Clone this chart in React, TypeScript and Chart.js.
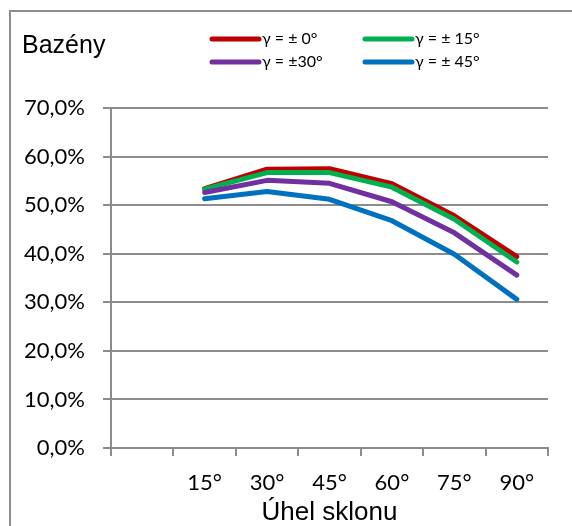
import React, { useEffect, useRef } from "react";
import { Chart, registerables } from "chart.js";

Chart.register(...registerables);

// Tilt angles (first slot left empty on purpose)
const categories = ["", "15°", "30°", "45°", "60°", "75°", "90°"];

// Efficiency in % for each azimuth deviation
const gamma0 = [null, 53.4, 57.4, 57.5, 54.4, 47.8, 39.4];
const gamma15 = [null, 53.3, 56.7, 56.7, 53.7, 47.1, 38.3];
const gamma30 = [null, 52.6, 55.1, 54.5, 50.7, 44.3, 35.6];
const gamma45 = [null, 51.3, 52.8, 51.2, 46.8, 39.9, 30.6];

const seriesLabels = ["γ = ± 0°", "γ = ± 15°", "γ = ±30°", "γ = ± 45°"];
const seriesColors = ["#C00000", "#00B050", "#7030A0", "#0070C0"];

const yTicks = { min: 0, max: 70, step: 10 };

const chartTitle = "Bazény";
const xAxisTitle = "Úhel sklonu";

const GRID = "#8c8c8c";
const NUM_FONT = "Lato, 'Noto Sans', sans-serif";
const TEXT_FONT = "'Liberation Sans', Arial, sans-serif";

// Frame, heading and two-row legend drawn straight onto the canvas
const decorations = {
  id: "decorations",
  beforeDraw(chart: any) {
    const { ctx, width, height } = chart;
    ctx.save();
    ctx.strokeStyle = GRID;
    ctx.lineWidth = 2;
    ctx.beginPath();
    ctx.moveTo(10, height);
    ctx.lineTo(10, 11);
    ctx.lineTo(width, 11);
    ctx.stroke();
    ctx.restore();
  },
  afterDraw(chart: any) {
    const { ctx } = chart;
    ctx.save();
    ctx.fillStyle = "#000";
    ctx.font = `25px ${TEXT_FONT}`;
    ctx.textAlign = "left";
    ctx.textBaseline = "alphabetic";
    ctx.fillText(chartTitle, 22, 53);

    const cols = [212, 365];
    const rows = [39, 62];
    ctx.font = `16px ${NUM_FONT}`;
    ctx.textBaseline = "middle";
    chart.data.datasets.forEach((ds: any, i: number) => {
      const x = cols[i % 2];
      const y = rows[Math.floor(i / 2)];
      ctx.strokeStyle = ds.borderColor;
      ctx.lineWidth = 5;
      ctx.lineCap = "round";
      ctx.beginPath();
      ctx.moveTo(x, y);
      ctx.lineTo(x + 47, y);
      ctx.stroke();
      ctx.fillStyle = "#000";
      ctx.fillText(ds.label, x + 50, y);
    });
    ctx.restore();
  },
};

export default function App() {
  const canvasRef = useRef<HTMLCanvasElement | null>(null);

  useEffect(() => {
    const canvas = canvasRef.current;
    if (!canvas) return;
    const series = [gamma0, gamma15, gamma30, gamma45];
    const chart = new Chart(canvas, {
      type: "line",
      data: {
        labels: categories,
        datasets: series.map((values, i) => ({
          label: seriesLabels[i],
          data: values,
          borderColor: seriesColors[i],
          backgroundColor: seriesColors[i],
          borderWidth: 5,
          borderCapStyle: "round",
          borderJoinStyle: "round",
          pointRadius: 0,
          pointHoverRadius: 0,
          tension: 0,
          fill: false,
          order: series.length - i,
        })),
      },
      options: {
        responsive: false,
        animation: false,
        devicePixelRatio: 1,
        layout: { padding: { left: 0, top: 108, right: 24, bottom: 0 } },
        plugins: {
          legend: { display: false },
          title: { display: false },
          tooltip: { enabled: false },
        },
        scales: {
          x: {
            type: "category",
            offset: true,
            grid: {
              offset: true,
              drawOnChartArea: false,
              drawTicks: true,
              tickLength: 8,
              color: GRID,
              lineWidth: 2,
            },
            border: { display: true, color: GRID, width: 2 },
            ticks: {
              color: "#000",
              font: { family: NUM_FONT, size: 22 },
              padding: 14,
              maxRotation: 0,
              autoSkip: false,
            },
            title: {
              display: true,
              text: xAxisTitle,
              color: "#000",
              font: { family: TEXT_FONT, size: 26, lineHeight: 1 },
              padding: { top: 0, bottom: 0 },
            },
            afterFit(scale: any) {
              scale.height = 78;
            },
          },
          y: {
            min: yTicks.min,
            max: yTicks.max,
            grid: {
              drawTicks: true,
              tickLength: 8,
              color: GRID,
              lineWidth: 2,
            },
            border: { display: true, color: GRID, width: 2 },
            ticks: {
              stepSize: yTicks.step,
              color: "#000",
              font: { family: NUM_FONT, size: 22 },
              padding: 18,
              callback: (v: any) => Number(v).toFixed(1).replace(".", ",") + "%",
            },
            afterFit(scale: any) {
              scale.width = 111;
            },
          },
        },
      },
      plugins: [decorations],
    });
    return () => chart.destroy();
  }, []);

  return (
    <div style={{ position: "absolute", left: 0, top: 0, width: 572, height: 526, background: "#fff" }}>
      <canvas ref={canvasRef} width={572} height={526} style={{ display: "block" }} />
    </div>
  );
}
